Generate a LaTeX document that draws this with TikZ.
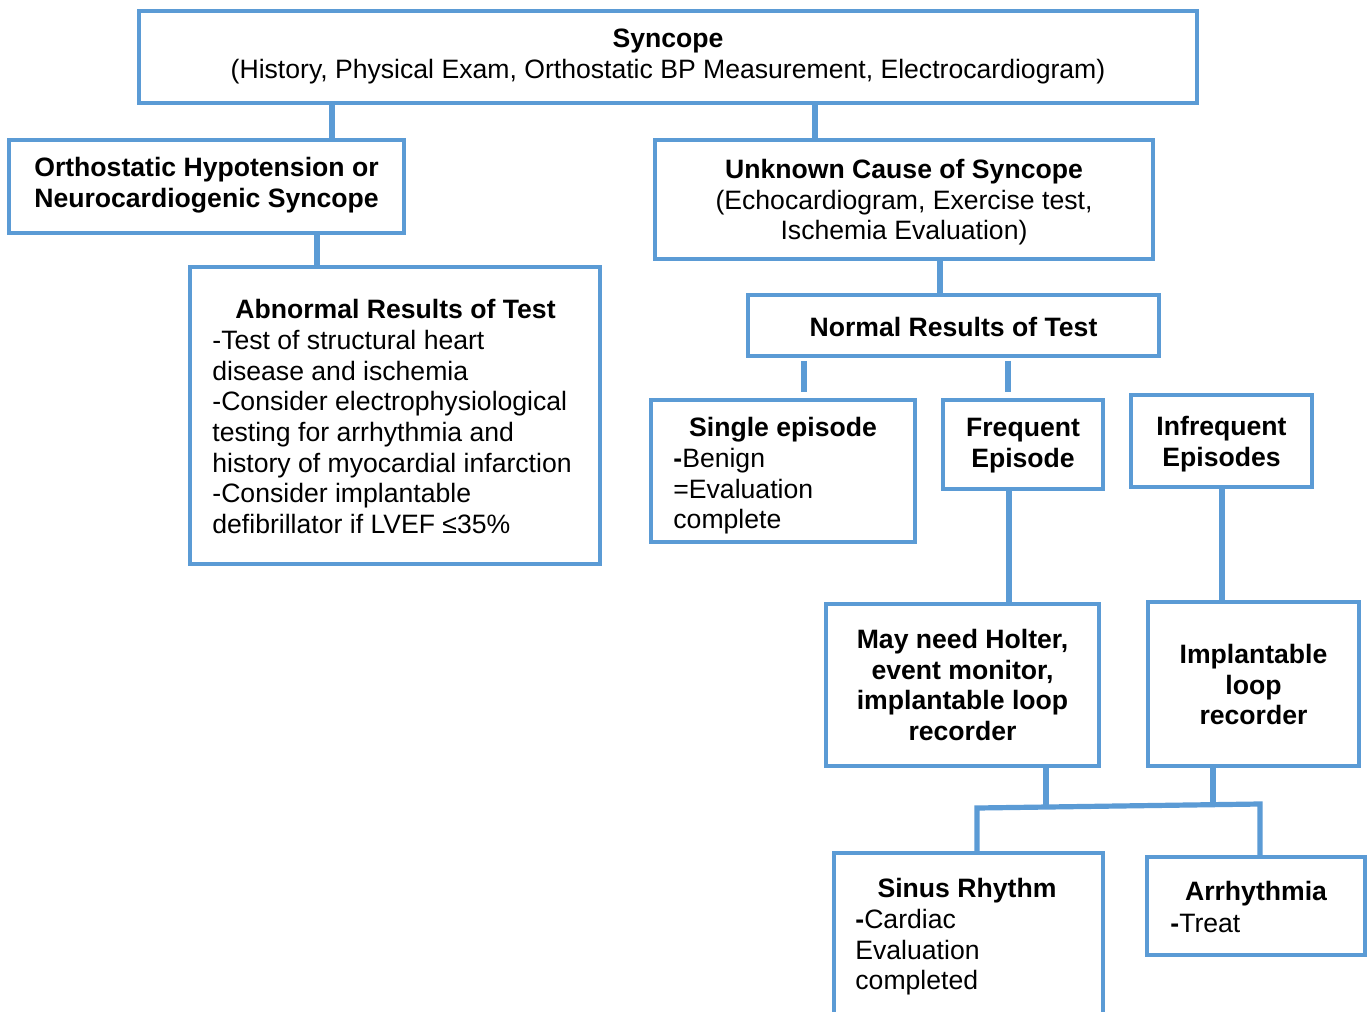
\documentclass[tikz,border=0pt]{standalone}
\usepackage{fontspec}
\setmainfont{Liberation Sans}
\usetikzlibrary{fit}
\definecolor{boxblue}{HTML}{5B9BD5}
\begin{document}
\begin{tikzpicture}[x=0.5pt,y=-0.5pt,
  box/.style={draw=boxblue, line width=1.75pt, inner sep=0pt},
  conn/.style={draw=boxblue, line width=2.6pt},
  txt/.style={inner sep=0pt, anchor=north, align=center, font=\fontsize{13.3}{15.35}\selectfont},
  btxt/.style={txt, font=\fontsize{13.3}{15.35}\selectfont\bfseries},
  ltxt/.style={txt, anchor=north west, align=left}]
\useasboundingbox (0,0) rectangle (1369,1011);
\fill[white] (0,0) rectangle (1369,1011);

% boxes
\node[box, fit={(139,11) (1197,103)}] (syn) {};
\node[box, fit={(9,140) (404,233)}] (ort) {};
\node[box, fit={(655,140) (1153,259)}] (unk) {};
\node[box, fit={(190,267) (600,564)}] (abn) {};
\node[box, fit={(748,295) (1159,356)}] (nor) {};
\node[box, fit={(651,400) (915,542)}] (sgl) {};
\node[box, fit={(943,400) (1103,489)}] (frq) {};
\node[box, fit={(1131,395) (1312,487)}] (ifq) {};
\node[box, fit={(826,604) (1099,766)}] (hol) {};
\node[box, fit={(1148,602) (1359,766)}] (ilr) {};
\node[box, fit={(834,853) (1103,1040)}] (sin) {};
\node[box, fit={(1147,857) (1365,955)}] (arr) {};

% texts
\node[txt] (synT) at (668,25.5) {\strut\textbf{Syncope}\\(History, Physical Exam, Orthostatic BP Measurement, Electrocardiogram)};
\node[btxt] (ortT) at (206.5,154.5) {\strut Orthostatic Hypotension or\\Neurocardiogenic Syncope};
\node[txt] (unkT) at (904,156.5) {\strut\textbf{Unknown Cause of Syncope}\\(Echocardiogram, Exercise test,\\Ischemia Evaluation)};
\node[btxt] (abnT) at (395.5,296.5) {\strut Abnormal Results of Test};
\node[ltxt] (abnB) at (212,327.5) {\strut -Test of structural heart\\disease and ischemia\\-Consider electrophysiological\\testing for arrhythmia and\\history of myocardial infarction\\-Consider implantable\\defibrillator if LVEF ≤35\%};
\node[btxt] (norT) at (953.5,314.5) {\strut Normal Results of Test};
\node[btxt] (sglT) at (783,414.5) {\strut Single episode};
\node[ltxt] (sglB) at (673,445.5) {\strut\textbf{-}Benign\\=Evaluation\\complete};
\node[btxt] (frqT) at (1023,414.5) {\strut Frequent\\Episode};
\node[btxt] (ifqT) at (1221.5,413.5) {\strut Infrequent\\Episodes};
\node[btxt] (holT) at (962.5,626.5) {\strut May need Holter,\\event monitor,\\implantable loop\\recorder};
\node[btxt] (ilrT) at (1253.5,641.5) {\strut Implantable\\loop\\recorder};
\node[btxt] (sinT) at (967,875.5) {\strut Sinus Rhythm};
\node[ltxt] (sinB) at (855,906.5) {\strut\textbf{-}Cardiac\\Evaluation\\completed};
\node[btxt] (arrT) at (1256,878.5) {\strut Arrhythmia};
\node[ltxt] (arrB) at (1170,910.5) {\strut\textbf{-}Treat};

% connector positions
\coordinate (c1) at (332,0);
\coordinate (c2) at (815,0);
\coordinate (c3) at (317,0);
\coordinate (c4) at (940,0);
\coordinate (s1) at (804,0);
\coordinate (s2) at (1008,0);
\coordinate (c5) at (1009,0);
\coordinate (c6) at (1222,0);
\coordinate (jh) at (1046,808);
\coordinate (ji) at (1213,805);
\coordinate (jl) at (977,808);
\coordinate (jr) at (1260,804);

\draw[conn] (syn.south -| c1) -- (ort.north -| c1);
\draw[conn] (syn.south -| c2) -- (unk.north -| c2);
\draw[conn] (ort.south -| c3) -- (abn.north -| c3);
\draw[conn] (unk.south -| c4) -- (nor.north -| c4);
\draw[conn, shorten <=1.5pt, shorten >=3.3pt] (nor.south -| s1) -- (sgl.north -| s1);
\draw[conn, shorten <=1.5pt, shorten >=3.3pt] (nor.south -| s2) -- (frq.north -| s2);
\draw[conn] (frq.south -| c5) -- (hol.north -| c5);
\draw[conn] (ifq.south -| c6) -- (ilr.north -| c6);
\draw[conn] (hol.south -| jh) -- (jh);
\draw[conn] (ilr.south -| ji) -- (ji);
\draw[conn, line join=miter] (sin.north -| jl) -- (jl) -- (jr) -- (arr.north -| jr);
\end{tikzpicture}
\end{document}
